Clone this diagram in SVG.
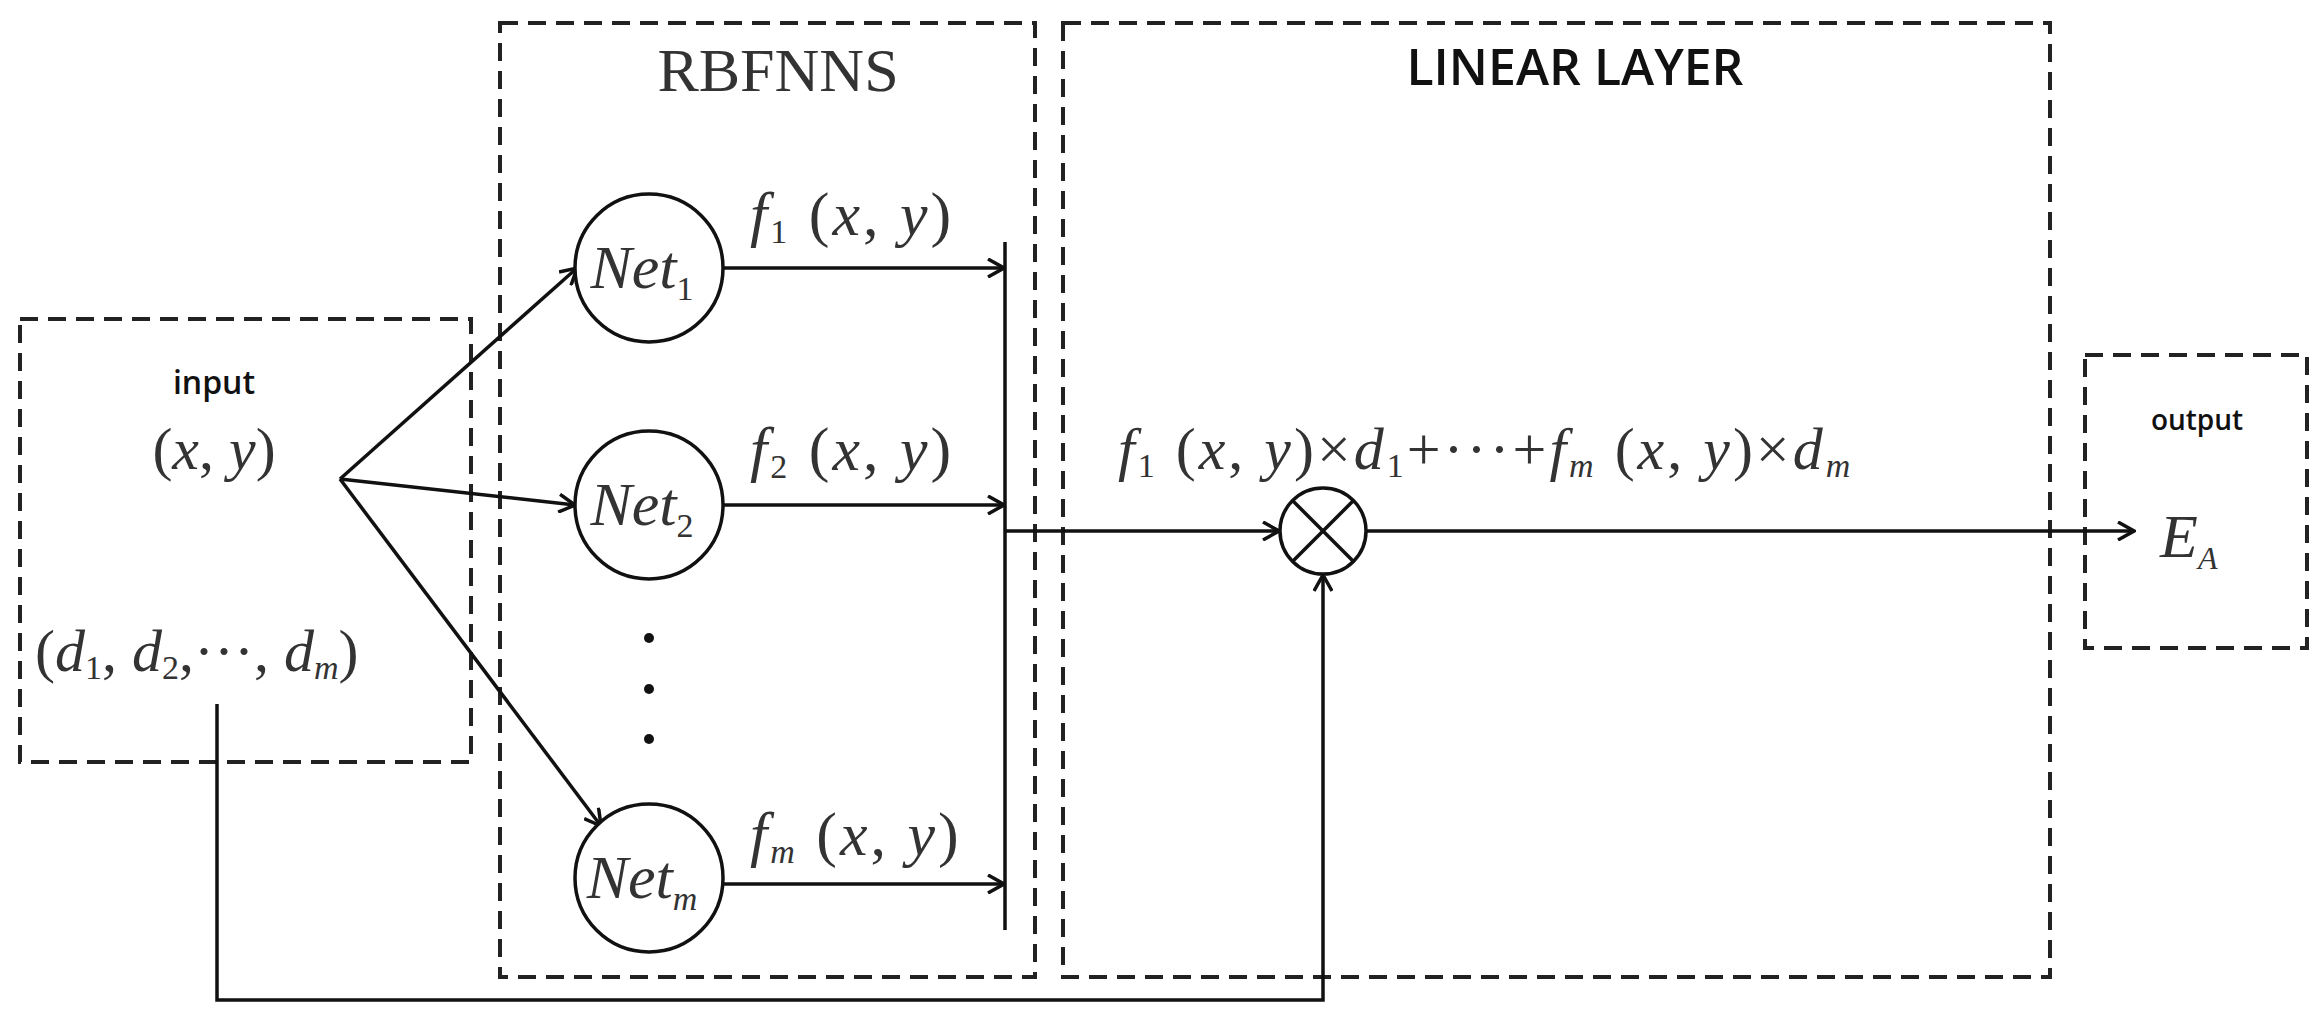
<svg xmlns="http://www.w3.org/2000/svg" width="2322" height="1021" viewBox="0 0 2322 1021">
<style>
.box{fill:none;stroke:#222;stroke-width:4;stroke-dasharray:18 10}
.ln{fill:none;stroke:#111;stroke-width:3.5}
.m{font-family:"Liberation Serif",serif;font-style:italic;fill:#333}
.r{font-family:"Liberation Serif",serif;font-style:normal;fill:#333}
.s{font-family:"Open Sans","Liberation Sans",sans-serif;fill:#111;font-weight:600}
.c{fill:#fff;stroke:#111;stroke-width:3.5}
</style>
<defs>
<marker id="a" viewBox="0 0 20 20" refX="18" refY="10" markerWidth="20" markerHeight="20" markerUnits="userSpaceOnUse" orient="auto">
<path d="M2,1 L18,10 L2,19" fill="none" stroke="#111" stroke-width="3.5"/>
</marker>
</defs>
<g id="input">
<rect class="box" x="20" y="319" width="451" height="443"/>
<text class="s" x="214" y="394" font-size="32" text-anchor="middle">input</text>
<text class="r" x="214" y="469" font-size="60" text-anchor="middle">(<tspan class="m">x</tspan>, <tspan class="m">y</tspan>)</text>
<text class="r" x="35" y="671" font-size="60">(<tspan class="m">d</tspan><tspan font-size="34" dy="8">1</tspan><tspan dy="-8">, </tspan><tspan class="m">d</tspan><tspan font-size="34" dy="8">2</tspan><tspan dy="-8">,···, </tspan><tspan class="m">d</tspan><tspan class="m" font-size="34" dy="8">m</tspan><tspan dy="-8">)</tspan></text>
</g>
<g id="rbfnns">
<rect class="box" x="500" y="23" width="535" height="954"/>
<text class="r" x="778" y="91" font-size="62" text-anchor="middle">RBFNNS</text>
</g>
<g id="linear">
<rect class="box" x="1063" y="23" width="987" height="954"/>
<text class="s" x="1575" y="85" font-size="50" text-anchor="middle">LINEAR LAYER</text>
</g>
<g id="output">
<rect class="box" x="2085" y="355" width="222" height="293"/>
<text class="s" x="2197" y="430" font-size="28" text-anchor="middle">output</text>
<text class="m" x="2160" y="557" font-size="62">E<tspan font-size="32" dy="12">A</tspan></text>
</g>
<g id="connectors">
<line class="ln" x1="340" y1="479" x2="577" y2="268" marker-end="url(#a)"/>
<line class="ln" x1="340" y1="479" x2="575" y2="505" marker-end="url(#a)"/>
<line class="ln" x1="340" y1="479" x2="601" y2="826" marker-end="url(#a)"/>
<line class="ln" x1="723" y1="268" x2="1004" y2="268" marker-end="url(#a)"/>
<line class="ln" x1="723" y1="505" x2="1004" y2="505" marker-end="url(#a)"/>
<line class="ln" x1="723" y1="884" x2="1004" y2="884" marker-end="url(#a)"/>
<line class="ln" x1="1005" y1="242" x2="1005" y2="930" stroke-width="5"/>
<line class="ln" x1="1005" y1="531" x2="1279" y2="531" marker-end="url(#a)"/>
<line class="ln" x1="1366" y1="531" x2="2134" y2="531" marker-end="url(#a)"/>
<polyline class="ln" points="217,704 217,1000 1323,1000 1323,575" marker-end="url(#a)"/>
</g>
<g id="net1">
<circle class="c" cx="649" cy="268" r="74"/>
<text class="m" x="642" y="288" font-size="62" text-anchor="middle">Net<tspan class="r" font-size="34" dy="12">1</tspan></text>
<text class="m" x="750" y="235" font-size="62" letter-spacing="3">f<tspan class="r" font-size="34" dy="8">1</tspan><tspan class="r" dy="-8"> (</tspan>x<tspan class="r">, </tspan>y<tspan class="r">)</tspan></text>
</g>
<g id="net2">
<circle class="c" cx="649" cy="505" r="74"/>
<text class="m" x="642" y="525" font-size="62" text-anchor="middle">Net<tspan class="r" font-size="34" dy="12">2</tspan></text>
<text class="m" x="750" y="470" font-size="62" letter-spacing="3">f<tspan class="r" font-size="34" dy="8">2</tspan><tspan class="r" dy="-8"> (</tspan>x<tspan class="r">, </tspan>y<tspan class="r">)</tspan></text>
</g>
<g id="dots" fill="#111">
<circle cx="649" cy="638" r="5"/><circle cx="649" cy="689" r="5"/><circle cx="649" cy="739" r="5"/>
</g>
<g id="netm">
<circle class="c" cx="649" cy="878" r="74"/>
<text class="m" x="642" y="898" font-size="62" text-anchor="middle">Net<tspan font-size="34" dy="12">m</tspan></text>
<text class="m" x="750" y="855" font-size="62" letter-spacing="3">f<tspan font-size="34" dy="8">m</tspan><tspan class="r" dy="-8"> (</tspan>x<tspan class="r">, </tspan>y<tspan class="r">)</tspan></text>
</g>
<g id="mult">
<circle class="c" cx="1323" cy="531" r="43"/>
<line class="ln" x1="1293" y1="501" x2="1353" y2="561"/>
<line class="ln" x1="1293" y1="561" x2="1353" y2="501"/>
<text class="m" x="1118" y="469" font-size="60" letter-spacing="3">f<tspan class="r" font-size="34" dy="8">1</tspan><tspan class="r" dy="-8"> (</tspan>x<tspan class="r">, </tspan>y<tspan class="r">)×</tspan>d<tspan class="r" font-size="34" dy="8">1</tspan><tspan class="r" dy="-8">+···+</tspan>f<tspan font-size="34" dy="8">m</tspan><tspan class="r" dy="-8"> (</tspan>x<tspan class="r">, </tspan>y<tspan class="r">)×</tspan>d<tspan font-size="34" dy="8">m</tspan></text>
</g>
</svg>
